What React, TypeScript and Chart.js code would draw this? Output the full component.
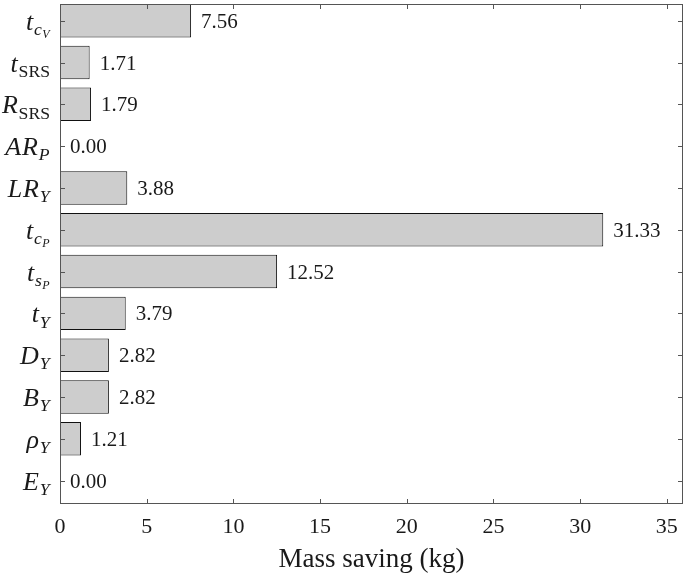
import React, { useEffect, useRef } from "react";
import { Chart, registerables } from "chart.js";

Chart.register(...registerables);

// ---- data ----
const categories = [
  "t_{c_{V}}",
  "t_{\\mathrm{SRS}}",
  "R_{\\mathrm{SRS}}",
  "AR_{P}",
  "LR_{Y}",
  "t_{c_{P}}",
  "t_{s_{P}}",
  "t_{Y}",
  "D_{Y}",
  "B_{Y}",
  "\\rho_{Y}",
  "E_{Y}",
];
const massSaving = [7.56, 1.71, 1.79, 0.0, 3.88, 31.33, 12.52, 3.79, 2.82, 2.82, 1.21, 0.0];
const xTicks = [0, 5, 10, 15, 20, 25, 30, 35];
const xMin = 0;
const xMax = 35.93;
const yMin = -0.4;
const yMax = 11.56;
const xTitle = "Mass saving (kg)";

// ---- styles ----
const FONT = '"Liberation Serif", "Times New Roman", serif';
const TEXT = "#1a1a1a";
const AXIS = "#555555";
const BAR_FILL = "#cdcdcd";
const BAR_EDGE = "#111111";

type Node = { t: "text"; text: string; roman: boolean } | { t: "sub"; children: Node[] };

function parseTex(s: string): Node[] {
  let i = 0;
  function group(): Node[] {
    const out: Node[] = [];
    while (i < s.length && s[i] !== "}") {
      const c = s[i];
      if (c === "_") {
        i++;
        let ch: Node[];
        if (s[i] === "{") {
          i++;
          ch = group();
          i++;
        } else {
          ch = [{ t: "text", text: s[i], roman: false }];
          i++;
        }
        out.push({ t: "sub", children: ch });
      } else if (c === "\\") {
        let j = i + 1;
        while (j < s.length && /[a-zA-Z]/.test(s[j])) j++;
        const cmd = s.slice(i + 1, j);
        i = j;
        if (cmd === "mathrm") {
          i++;
          const inner = group();
          i++;
          inner.forEach((n) => {
            if (n.t === "text") n.roman = true;
          });
          out.push(...inner);
        } else if (cmd === "rho") {
          out.push({ t: "text", text: "ρ", roman: false });
        }
      } else {
        out.push({ t: "text", text: c, roman: false });
        i++;
      }
    }
    return out;
  }
  return group();
}

function renderTex(
  ctx: CanvasRenderingContext2D,
  nodes: Node[],
  x: number,
  y: number,
  size: number,
  draw: boolean
): number {
  let cx = x;
  for (const n of nodes) {
    if (n.t === "text") {
      ctx.font = `${n.roman ? "" : "italic "}${size}px ${FONT}`;
      const w = ctx.measureText(n.text).width;
      if (draw) ctx.fillText(n.text, cx, y);
      cx += w + (n.roman ? 0 : size * 0.03);
    } else {
      const s2 = size * 0.68;
      cx += renderTex(ctx, n.children, cx, y + size * 0.2, s2, draw);
    }
  }
  return cx - x;
}

const decorPlugin = {
  id: "decor",
  afterDatasetsDraw(chart: any) {
    const { ctx, chartArea: a, scales } = chart;
    const xs = scales.x;
    const ys = scales.y;
    ctx.save();
    // frame
    ctx.strokeStyle = AXIS;
    ctx.lineWidth = 1;
    ctx.strokeRect(a.left + 0.5, a.top + 0.5, a.right - a.left - 1, a.bottom - a.top - 1);
    // ticks, inward
    const tl = 5;
    ctx.beginPath();
    for (const v of xTicks) {
      const px = Math.round(xs.getPixelForValue(v)) + 0.5;
      ctx.moveTo(px, a.bottom);
      ctx.lineTo(px, a.bottom - tl);
      ctx.moveTo(px, a.top);
      ctx.lineTo(px, a.top + tl);
    }
    categories.forEach((_, i) => {
      const py = Math.round(ys.getPixelForValue(i)) + 0.5;
      ctx.moveTo(a.left, py);
      ctx.lineTo(a.left + tl, py);
      ctx.moveTo(a.right, py);
      ctx.lineTo(a.right - tl, py);
    });
    ctx.stroke();

    // value labels
    const meta = chart.getDatasetMeta(0);
    ctx.fillStyle = TEXT;
    ctx.textAlign = "left";
    ctx.textBaseline = "alphabetic";
    ctx.font = `21px ${FONT}`;
    meta.data.forEach((bar: any, i: number) => {
      ctx.fillText(massSaving[i].toFixed(2), bar.x + 10, bar.y + 7);
    });

    // category labels
    categories.forEach((c, i) => {
      const nodes = parseTex(c);
      const py = ys.getPixelForValue(i);
      const w = renderTex(ctx, nodes, 0, 0, 26, false);
      renderTex(ctx, nodes, a.left - 10 - w, py + 9, 26, true);
    });
    ctx.restore();
  },
};

export default function App() {
  const ref = useRef<HTMLCanvasElement | null>(null);
  useEffect(() => {
    if (!ref.current) return;
    const chart = new Chart(ref.current, {
      type: "bar",
      data: {
        datasets: [
          {
            data: massSaving.map((v, i) => ({ x: v, y: i })),
            backgroundColor: BAR_FILL,
            borderColor: BAR_EDGE,
            borderWidth: 1,
            borderSkipped: false,
            inflateAmount: 0,
            barPercentage: 1,
            categoryPercentage: 0.8,
          },
        ],
      },
      options: {
        indexAxis: "y",
        animation: false,
        responsive: false,
        devicePixelRatio: 1,
        layout: { padding: { left: 0, right: 2, top: 4, bottom: 0 } },
        plugins: { legend: { display: false }, tooltip: { enabled: false } },
        scales: {
          x: {
            type: "linear",
            min: xMin,
            max: xMax,
            grid: { display: false, drawTicks: false },
            border: { display: false },
            afterBuildTicks: (s: any) => {
              s.ticks = xTicks.map((v) => ({ value: v }));
            },
            afterFit: (s: any) => {
              s.height = 72;
              s.paddingLeft = 0;
              s.paddingRight = 0;
            },
            ticks: {
              color: TEXT,
              font: { family: FONT, size: 22 },
              padding: 10,
              maxRotation: 0,
            },
            title: {
              display: true,
              text: xTitle,
              color: TEXT,
              font: { family: FONT, size: 27 },
              padding: { top: 0, bottom: 0 },
            },
          },
          y: {
            type: "linear",
            min: yMin,
            max: yMax,
            reverse: true,
            offset: false,
            grid: { display: false, drawTicks: false, offset: false },
            border: { display: false },
            ticks: { display: false },
            afterBuildTicks: (s: any) => {
              s.ticks = categories.map((_, i) => ({ value: i }));
            },
            afterFit: (s: any) => {
              s.width = 60;
              s.paddingTop = 0;
              s.paddingBottom = 0;
            },
          },
        },
      },
      plugins: [decorPlugin],
    } as any);
    return () => chart.destroy();
  }, []);
  return (
    <div style={{ position: "fixed", left: 0, top: 0, width: 685, height: 576, background: "#fff" }}>
      <canvas ref={ref} width={685} height={576} />
    </div>
  );
}
